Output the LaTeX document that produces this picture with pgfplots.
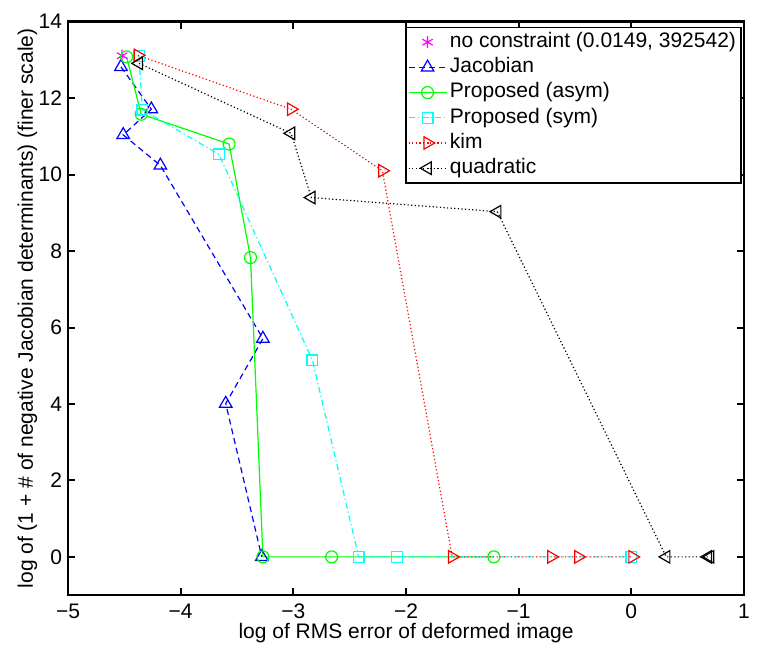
\documentclass[border=0pt]{standalone}
\usepackage{fontspec}
\setmainfont{Liberation Sans}
\usepackage{pgfplots}
\pgfplotsset{compat=1.18}
\definecolor{mcyan}{rgb}{0,1,1}
\definecolor{mmagenta}{rgb}{1,0,1}
\definecolor{mgreen}{rgb}{0,1,0}
\definecolor{mblue}{rgb}{0,0,1}
\definecolor{mred}{rgb}{1,0,0}
\begin{document}
\begin{tikzpicture}
\path[use as bounding box] (-34pt,-32.45pt) rectangle (347pt,297.55pt);
\begin{axis}[
  scale only axis, width=338pt, height=286.7pt,
  xmin=-5, xmax=1, ymin=-1, ymax=14,
  xtick={-5,-4,-3,-2,-1,0,1}, xticklabels={−5,−4,−3,−2,−1,0,1},
  ytick={0,2,4,6,8,10,12,14}, yticklabels={0,2,4,6,8,10,12,14},
  tick align=inside, xtick pos=both, ytick pos=both,
  major tick length=3.5pt,
  axis line style={line width=1.2pt},
  tick style={line width=1pt, black},
  ticklabel style={font=\fontsize{10.5}{12.5}\selectfont},
  xticklabel style={anchor=base, yshift=-11.8pt},
  yticklabel style={xshift=0.5pt},
  label style={font=\fontsize{10.5}{12.5}\selectfont},
  xlabel={log of RMS error of deformed image},
  xlabel style={at={([yshift=-21.8pt]axis description cs:0.5,0)}, anchor=base},
  ylabel={log of (1 + \# of negative Jacobian determinants) (finer scale)},
  ylabel style={at={([xshift=-17.5pt]axis description cs:0,0.5)}, anchor=base},
  legend cell align=left,
  legend style={at={(0.9966,0.9913)}, anchor=north east, draw=black, line width=0.9pt,
    font=\fontsize{10.5}{12.5}\selectfont, inner sep=1pt,
    nodes={inner sep=1.4pt, text height=7.6pt, text depth=2.2pt}},
  legend image code/.code={\draw[mark repeat=2,mark phase=2,#1] plot coordinates {(0pt,0pt) (9.5pt,0pt) (19pt,0pt)};},
  every axis plot/.append style={line width=0.6pt},
]
\addplot[only marks, mmagenta, mark=asterisk, mark size=3pt] coordinates {(-4.52,13.11)};
\addlegendentry{no constraint (0.0149, 392542)}
\addplot[mblue, dash pattern=on 3pt off 2pt, mark=triangle, mark size=3.6pt, mark options={solid}] coordinates {
(-4.53,12.82) (-4.26,11.71) (-4.51,11.04) (-4.18,10.24) (-3.27,5.71) (-3.60,4.01) (-3.28,0.0)};
\addlegendentry{Jacobian}
\addplot[mgreen, mark=o, mark size=3pt, mark options={solid}] coordinates {
(-4.48,13.08) (-4.35,11.58) (-3.57,10.80) (-3.38,7.83) (-3.27,0.0) (-2.66,0.0) (-1.22,0.0)};
\addlegendentry{Proposed (asym)}
\addplot[mcyan, dash pattern=on 3pt off 1.5pt on 0.6pt off 1.5pt, mark=square, mark size=2.7pt, mark options={solid}] coordinates {
(-4.37,13.10) (-4.34,11.70) (-3.66,10.53) (-2.83,5.14) (-2.42,0.0) (-2.08,0.0) (0.0,0.0)};
\addlegendentry{Proposed (sym)}
\addplot[mred, dash pattern=on 0.6pt off 1.2pt, mark=triangle, mark size=3.6pt, mark options={solid, rotate=-90}] coordinates {
(-4.38,13.12) (-3.02,11.71) (-2.21,10.10) (-1.59,0.0) (-0.71,0.0) (-0.47,0.0) (0.01,0.0)};
\addlegendentry{kim}
\addplot[black, dash pattern=on 0.6pt off 1.2pt, mark=triangle, mark size=3.6pt, mark options={solid, rotate=90}] coordinates {
(-4.37,12.91) (-3.02,11.08) (-2.84,9.40) (-1.19,9.03) (0.31,0.0) (0.68,0.0) (0.70,0.0)};
\addlegendentry{quadratic}
\end{axis}
\end{tikzpicture}
\end{document}
